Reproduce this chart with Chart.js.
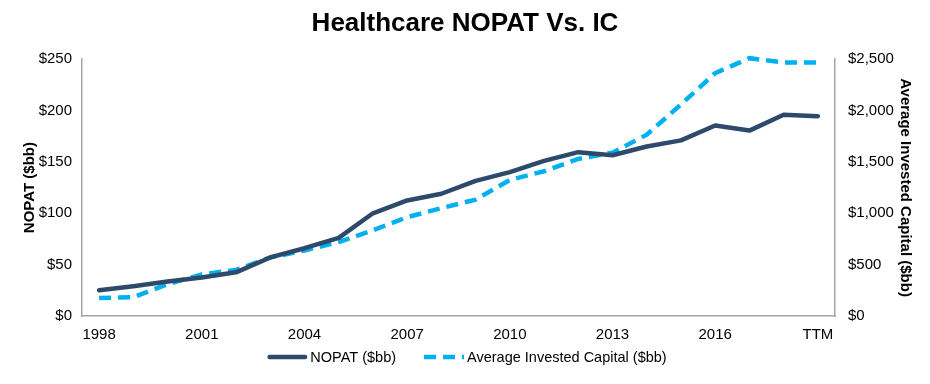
<!DOCTYPE html>
<html>
<head>
<meta charset="utf-8">
<script src="https://cdn.jsdelivr.net/npm/chart.js@4"></script>
<style>
html,body{margin:0;padding:0;background:#fff;}
#wrap{width:930px;height:384px;position:relative;}
</style>
</head>
<body>
<div id="wrap"><canvas id="c" width="930" height="384"></canvas></div>
<script>
const categories = ['1998','1999','2000','2001','2002','2003','2004','2005','2006','2007','2008','2009','2010','2011','2012','2013','2014','2015','2016','2017','2018','TTM'];
const nopat = [25, 29, 33.5, 37.5, 42.5, 57, 66, 76, 100, 112.5, 119, 131.5, 140, 151, 159.5, 156.5, 165, 171, 185.5, 180.5, 196, 194.5];
const investedCapital = [175, 183, 310, 405, 449, 570, 638, 720, 835, 962, 1050, 1133, 1325, 1409, 1530, 1590, 1765, 2060, 2365, 2510, 2468, 2468];
const leftTicks = [0, 50, 100, 150, 200, 250];
const rightTicks = [0, 500, 1000, 1500, 2000, 2500];

const FONT = "'Liberation Sans', Arial, sans-serif";
const AXIS = '#a6a6a6';

// Legend drawn below the axis, built from the datasets
const lineLegend = {
  id: 'lineLegend',
  afterDraw(chart) {
    const ctx = chart.ctx;
    const sample = 40, textGap = 3, itemGap = 28, y = 357;
    ctx.save();
    ctx.font = '14.5px ' + FONT;
    ctx.textBaseline = 'middle';
    ctx.textAlign = 'left';
    const items = chart.data.datasets.map(ds => ({ds, w: sample + textGap + ctx.measureText(ds.label).width}));
    const total = items.reduce((a, it) => a + it.w, 0) + itemGap * (items.length - 1);
    let x = chart.width / 2 - total / 2 + 2;
    items.forEach(({ds, w}) => {
      ctx.beginPath();
      ctx.strokeStyle = ds.borderColor;
      ctx.lineWidth = ds.borderWidth;
      ctx.lineCap = ds.borderCapStyle || 'butt';
      ctx.setLineDash(ds.borderDash || []);
      const inset = ctx.lineCap === 'round' ? ds.borderWidth / 2 : 0;
      ctx.moveTo(x + inset, y);
      ctx.lineTo(x + sample - inset, y);
      ctx.stroke();
      ctx.setLineDash([]);
      ctx.fillStyle = '#000';
      ctx.fillText(ds.label, x + sample + textGap, y + 0.5);
      x += w + itemGap;
    });
    ctx.restore();
  }
};

new Chart(document.getElementById('c'), {
  type: 'line',
  plugins: [lineLegend],
  data: {
    labels: categories,
    datasets: [
      {label: 'NOPAT ($bb)', data: nopat, yAxisID: 'y', borderColor: '#2e4a6b', backgroundColor: '#2e4a6b', borderWidth: 4.5, pointRadius: 0, tension: 0, borderCapStyle: 'round', borderJoinStyle: 'round', clip: false},
      {label: 'Average Invested Capital ($bb)', data: investedCapital, yAxisID: 'y1', borderColor: '#00b0f0', backgroundColor: '#00b0f0', borderWidth: 4.5, borderDash: [12, 7], pointRadius: 0, tension: 0, borderCapStyle: 'butt', clip: false}
    ]
  },
  options: {
    responsive: false,
    animation: false,
    layout: {padding: {left: 0, right: 0, top: 0, bottom: 40}},
    plugins: {
      title: {display: true, text: 'Healthcare NOPAT Vs. IC', color: '#000', font: {family: FONT, size: 26, weight: 'bold'}, padding: {top: 8, bottom: 20}},
      legend: {display: false},
      tooltip: {enabled: false}
    },
    scales: {
      x: {
        offset: true,
        afterFit: (s) => { s.height = 28; },
        grid: {display: false, drawTicks: false},
        border: {display: true, color: AXIS, width: 1.5},
        ticks: {autoSkip: false, maxRotation: 0, color: '#000', font: {family: FONT, size: 15}, padding: 10,
          callback: function(v, i) { return (i % 3 === 0) ? categories[i] : ''; }}
      },
      y: {
        position: 'left', min: 0, max: 250,
        afterBuildTicks: (s) => { s.ticks = leftTicks.map(v => ({value: v})); },
        afterFit: (s) => { s.width = 82; },
        grid: {display: false, drawTicks: false},
        border: {display: true, color: AXIS, width: 1.5},
        title: {display: true, text: 'NOPAT ($bb)', color: '#000', font: {family: FONT, size: 15, weight: 'bold'}, padding: {top: 21, bottom: 0}},
        ticks: {color: '#000', font: {family: FONT, size: 15}, padding: 10, callback: (v) => '$' + v}
      },
      y1: {
        position: 'right', min: 0, max: 2500,
        afterBuildTicks: (s) => { s.ticks = rightTicks.map(v => ({value: v})); },
        afterFit: (s) => { s.width = 95; },
        grid: {display: false, drawTicks: false},
        border: {display: true, color: AXIS, width: 1.5},
        title: {display: true, text: 'Average Invested Capital ($bb)', color: '#000', font: {family: FONT, size: 15, weight: 'bold'}, padding: {top: 16, bottom: 0}},
        ticks: {color: '#000', font: {family: FONT, size: 15}, padding: 13, callback: (v) => '$' + v.toLocaleString('en-US')}
      }
    }
  }
});
</script>
</body>
</html>
